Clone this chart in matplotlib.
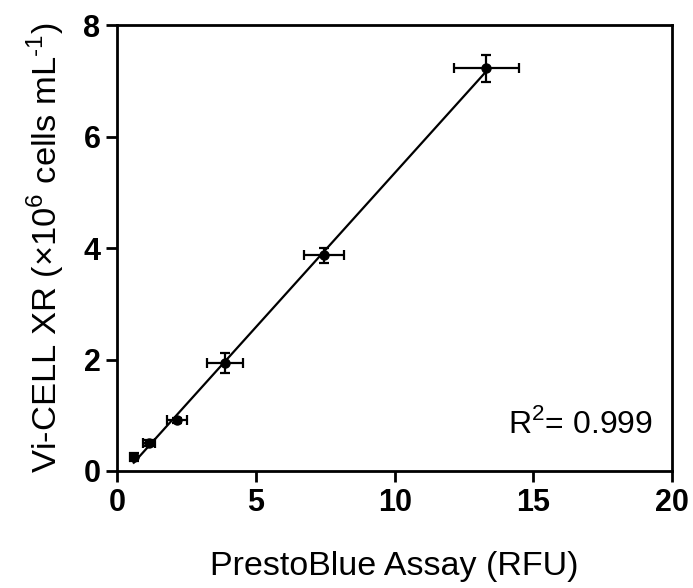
import numpy as np
import matplotlib
matplotlib.use("Agg")
import matplotlib.pyplot as plt

plt.rcParams["font.family"] = ["Liberation Sans", "DejaVu Sans"]
plt.rcParams["mathtext.fontset"] = "custom"
plt.rcParams["mathtext.rm"] = "Liberation Sans"

# -- Donnees -----------------------------------------------------------------
rfu      = [0.6, 1.15, 2.15, 3.9, 7.45, 13.3]
rfu_err  = [0.12, 0.22, 0.36, 0.65, 0.72, 1.17]
cells    = [0.25, 0.50, 0.91, 1.93, 3.87, 7.23]
cells_err = [0.07, 0.05, 0.04, 0.18, 0.13, 0.24]
r2_text = "R$^2$= 0.999"

# droite de regression
slope, icpt = np.polyfit(rfu, cells, 1)
x_fit = np.array([min(rfu), max(rfu)])

fig = plt.figure(figsize=(6.93, 5.88), dpi=100)
ax = fig.add_axes([0.169, 0.199, 0.801, 0.758])

ax.plot(x_fit, slope * x_fit + icpt, color="black", linewidth=1.6)
ax.errorbar(rfu, cells, xerr=rfu_err, yerr=cells_err, fmt="o", color="black",
            markersize=6.5, elinewidth=1.6, capsize=3.6, capthick=1.6)

ax.set_xlim(0, 20)
ax.set_ylim(0, 8)
ax.set_xticks([0, 5, 10, 15, 20])
ax.set_yticks([0, 2, 4, 6, 8])
for s in ax.spines.values():
    s.set_linewidth(2)
ax.tick_params(direction="out", length=8, width=2, labelsize=22, pad=4)
for lab in ax.get_xticklabels() + ax.get_yticklabels():
    lab.set_fontweight("bold")

ax.set_xlabel("PrestoBlue Assay (RFU)", fontsize=24.5, labelpad=24)
ax.set_ylabel("Vi-CELL XR (\u00d710$^6$ cells mL$^{\\text{-1}}$)", fontsize=24.8, labelpad=12)
ax.text(0.966, 0.085, r2_text, transform=ax.transAxes, ha="right", va="baseline", fontsize=23)

fig.savefig("out.png", dpi=100)
